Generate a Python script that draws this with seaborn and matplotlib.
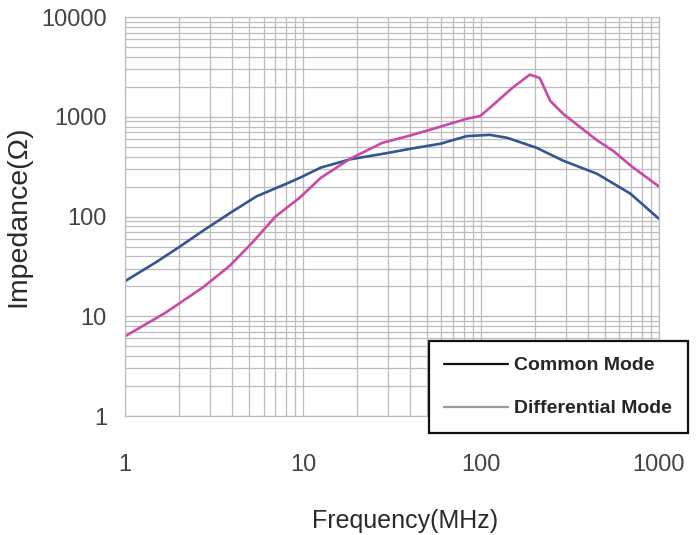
import matplotlib
matplotlib.use("Agg")
import matplotlib.pyplot as plt
from matplotlib.ticker import FixedLocator, FuncFormatter, LogLocator, NullFormatter
import seaborn as sns
import pandas as pd

# (MHz, Ohm)
cm_freq = [1, 1.5, 2, 2.74, 4, 5.5, 8, 9.6, 12.6, 18.4, 29, 40, 59, 83, 112, 140, 205, 290, 448, 690, 1000]
cm_imp = [22.5, 35, 49, 72, 112, 160, 212, 245, 310, 375, 430, 478, 537, 640, 660, 617, 490, 363, 269, 170, 95]

dm_freq = [1, 1.68, 2.74, 3.87, 5.2, 7, 9.6, 12.6, 18.4, 28, 40, 54, 83, 99, 112, 150, 188, 214, 245, 290, 450, 552, 700, 1000]
dm_imp = [6.3, 10.8, 19.5, 32, 55, 100, 155, 245, 380, 550, 650, 759, 955, 1020, 1230, 1950, 2650, 2450, 1445, 1070, 580, 457, 320, 200]

labels = ["Common Mode", "Differential Mode"]
line_colors = ["#34558f", "#c94aa6"]
legend_colors = ["#111111", "#9a9a9a"]
x_ticks = [1, 10, 100, 1000]
y_ticks = [1, 10, 100, 1000, 10000]

df = pd.concat([
    pd.DataFrame({"freq": cm_freq, "imp": cm_imp, "mode": labels[0]}),
    pd.DataFrame({"freq": dm_freq, "imp": dm_imp, "mode": labels[1]}),
])

sns.set_style("white")
fam = ["Liberation Sans", "DejaVu Sans"]
plt.rcParams["font.family"] = fam

fig = plt.figure(figsize=(6.96, 5.35), dpi=100)
ax = fig.add_axes([0.1796, 0.2224, 0.7672, 0.7456])

sns.lineplot(data=df, x="freq", y="imp", hue="mode", palette=line_colors,
             linewidth=1.9, sort=False, estimator=None, ax=ax)

ax.set_xscale("log")
ax.set_yscale("log")
ax.set_xlim(1, 1000)
ax.set_ylim(1, 10000)
ax.xaxis.set_major_locator(FixedLocator(x_ticks))
ax.yaxis.set_major_locator(FixedLocator(y_ticks))
ax.xaxis.set_minor_locator(LogLocator(base=10, subs=range(2, 10)))
ax.yaxis.set_minor_locator(LogLocator(base=10, subs=range(2, 10)))
ax.xaxis.set_major_formatter(FuncFormatter(lambda v, p: "%g" % v))
ax.yaxis.set_major_formatter(FuncFormatter(lambda v, p: "%g" % v))
ax.xaxis.set_minor_formatter(NullFormatter())
ax.yaxis.set_minor_formatter(NullFormatter())

ax.grid(which="both", color="#bdbdbd", linewidth=0.9)
ax.set_axisbelow(True)
for s in ax.spines.values():
    s.set_color("#bdbdbd")
    s.set_linewidth(0.9)

ax.tick_params(axis="x", which="major", length=7, width=0.9, color="#bdbdbd",
               pad=20, labelsize=17, labelcolor="#444444")
ax.tick_params(axis="y", which="major", length=5, width=0.9, color="#bdbdbd",
               pad=8, labelsize=17, labelcolor="#444444")
ax.tick_params(which="minor", length=0)

ax.set_xlabel("Frequency(MHz)", fontsize=18, color="#2a2a2a")
ax.set_ylabel("Impedance(Ω)", fontsize=20.5, color="#2a2a2a")
ax.xaxis.label.set_va("center")
ax.xaxis.set_label_coords(0.524, -0.262)
ax.yaxis.label.set_va("center")
ax.yaxis.set_label_coords(-0.2, 0.5)

leg = ax.legend(loc="upper left", bbox_to_anchor=(0.616, 0.362), bbox_transform=fig.transFigure,
                frameon=True, fancybox=False, handlelength=3.3, handletextpad=0.3,
                borderpad=0.8, labelspacing=1.3, borderaxespad=0,
                prop={"family": fam, "weight": "bold", "size": 14})
leg.get_frame().set_edgecolor("#111111")
leg.get_frame().set_linewidth(1.6)
leg.get_frame().set_alpha(1)
for h, c in zip(leg.get_lines(), legend_colors):
    h.set_color(c)
    h.set_linewidth(1.6)

plt.savefig("out.png", dpi=100)
plt.close()
